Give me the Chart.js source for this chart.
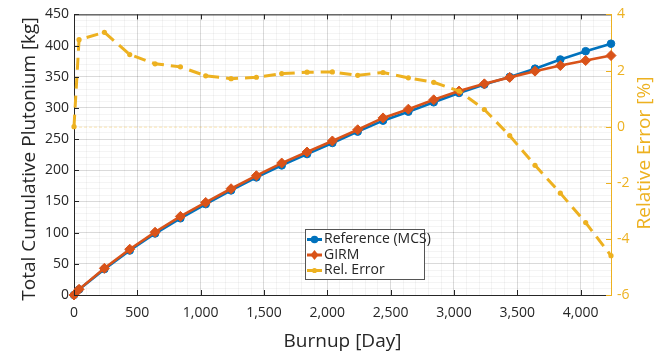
<!DOCTYPE html>
<html><head><meta charset="utf-8">
<script src="https://cdn.jsdelivr.net/npm/chart.js@4/dist/chart.umd.min.js"></script>
<style>html,body{margin:0;padding:0;background:#fff}#wrap{width:665px;height:359px;position:relative}</style>
</head><body><div id="wrap"><canvas id="c" width="665" height="359"></canvas></div>
<script>
// ---- data ----
const days    = [0, 40, 240, 440, 640, 840, 1040, 1240, 1440, 1640, 1840, 2040, 2240, 2440, 2640, 2840, 3040, 3240, 3440, 3640, 3840, 4040, 4240];
const refMCS  = [0, 8.8, 41.5, 71.3, 98.6, 123, 145.7, 167.7, 188.6, 207.8, 226, 243.8, 262, 279.6, 294, 309, 324, 337.5, 349.8, 363, 377.7, 391, 403];
const girm    = [0, 9.1, 42.8, 73.4, 100.7, 126, 148.4, 170.4, 191.3, 211.6, 229.3, 247, 265, 284, 298, 313, 327, 338.6, 349, 359, 368, 376, 384];
const relErr  = [0, 3.1, 3.36, 2.57, 2.24, 2.13, 1.81, 1.71, 1.76, 1.89, 1.94, 1.95, 1.83, 1.93, 1.74, 1.58, 1.27, 0.61, -0.32, -1.38, -2.37, -3.42, -4.6];
const xTicks  = [0, 500, 1000, 1500, 2000, 2500, 3000, 3500, 4000];
const yTicks  = [0, 50, 100, 150, 200, 250, 300, 350, 400, 450];
const y2Ticks = [-6, -4, -2, 0, 2, 4];
const seriesNames = ['Reference (MCS)', 'GIRM', 'Rel. Error'];
const xTitle  = 'Burnup [Day]';
const yTitle  = 'Total Cumulative Plutonium [kg]';
const y2Title = 'Relative Error [%]';

// ---- styles ----
const BLUE = '#0072BD', ORANGE = '#D95319', YELLOW = '#EDB120', AX = '#262626';
const FONT = '"Open Sans", "Noto Sans", sans-serif';

const pts = arr => days.map((d, i) => ({x: d, y: arr[i]}));

const frame = {
  id: 'frame',
  beforeDatasetsDraw(chart) {
    const {ctx, chartArea: a} = chart;
    const y0 = chart.scales.y2.getPixelForValue(0);
    ctx.save();
    ctx.strokeStyle = 'rgba(237,177,32,0.35)';
    ctx.lineWidth = 1;
    ctx.setLineDash([3, 2]);
    ctx.beginPath(); ctx.moveTo(a.left, y0 + 0.5); ctx.lineTo(a.right, y0 + 0.5); ctx.stroke();
    ctx.restore();
  },
  afterDraw(chart) {
    const {ctx, chartArea: a, scales} = chart;
    ctx.save();
    // top box line
    ctx.strokeStyle = AX; ctx.lineWidth = 1;
    ctx.beginPath(); ctx.moveTo(a.left, a.top + 0.5); ctx.lineTo(a.right, a.top + 0.5); ctx.stroke();
    // inward ticks
    const tl = 5;
    ctx.beginPath();
    xTicks.forEach(v => {
      const px = Math.round(scales.x.getPixelForValue(v)) + 0.5;
      ctx.moveTo(px, a.bottom); ctx.lineTo(px, a.bottom - tl);
      ctx.moveTo(px, a.top); ctx.lineTo(px, a.top + tl);
    });
    yTicks.forEach(v => {
      const py = Math.round(scales.y.getPixelForValue(v)) + 0.5;
      ctx.moveTo(a.left, py); ctx.lineTo(a.left + tl, py);
    });
    ctx.stroke();
    ctx.strokeStyle = YELLOW;
    ctx.beginPath();
    y2Ticks.forEach(v => {
      const py = Math.round(scales.y2.getPixelForValue(v)) + 0.5;
      ctx.moveTo(a.right, py); ctx.lineTo(a.right - tl, py);
    });
    ctx.stroke();

    // legend
    const lx = 305, ly = 229, lw = 119, lh = 50;
    ctx.fillStyle = '#fff';
    ctx.fillRect(lx, ly, lw, lh);
    ctx.strokeStyle = '#555'; ctx.lineWidth = 1;
    ctx.strokeRect(lx + 0.5, ly + 0.5, lw, lh);
    const rows = [ly + 10.5, ly + 26, ly + 41.5];
    const dsets = chart.data.datasets;
    dsets.forEach((ds, i) => {
      const ry = rows[i];
      ctx.strokeStyle = ds.borderColor; ctx.lineWidth = 3;
      ctx.setLineDash([]);
      ctx.beginPath(); ctx.moveTo(lx + 2, ry); ctx.lineTo(lx + 17, ry); ctx.stroke();
      ctx.fillStyle = ds.borderColor;
      ctx.beginPath();
      if (ds.pointStyle === 'rectRot') {
        const r = ds.pointRadius;
        ctx.moveTo(lx + 9.5, ry - r); ctx.lineTo(lx + 9.5 + r * 0.8, ry); ctx.lineTo(lx + 9.5, ry + r); ctx.lineTo(lx + 9.5 - r * 0.8, ry);
      } else {
        ctx.arc(lx + 9.5, ry, ds.pointRadius, 0, Math.PI * 2);
      }
      ctx.fill();
      ctx.fillStyle = AX;
      ctx.font = '14px ' + FONT;
      ctx.textBaseline = 'middle'; ctx.textAlign = 'left';
      ctx.fillText(seriesNames[i], lx + 19, ry);
    });

    // axis titles
    ctx.font = '19px ' + FONT;
    ctx.fillStyle = AX; ctx.textAlign = 'center'; ctx.textBaseline = 'middle';
    ctx.fillText(xTitle, (a.left + a.right) / 2, 342);
    ctx.textBaseline = 'alphabetic';
    ctx.save(); ctx.translate(35, 159); ctx.rotate(-Math.PI / 2); ctx.fillText(yTitle, 0, 0); ctx.restore();
    ctx.fillStyle = YELLOW;
    ctx.save(); ctx.translate(650, 153); ctx.rotate(-Math.PI / 2); ctx.fillText(y2Title, 0, 0); ctx.restore();
    ctx.restore();
  }
};

new Chart(document.getElementById('c'), {
  type: 'line',
  data: {
    datasets: [
      {label: seriesNames[0], data: pts(refMCS), yAxisID: 'y', xAxisID: 'x', borderColor: BLUE, backgroundColor: BLUE,
       borderWidth: 2.6, pointStyle: 'circle', pointRadius: 3.8, pointBorderWidth: 1, order: 3, clip: 6},
      {label: seriesNames[1], data: pts(girm), yAxisID: 'y', xAxisID: 'x', borderColor: ORANGE, backgroundColor: ORANGE,
       borderWidth: 2.6, pointStyle: 'rectRot', pointRadius: 5, pointBorderWidth: 1, order: 2, clip: 6},
      {label: seriesNames[2], data: pts(relErr), yAxisID: 'y2', xAxisID: 'x', borderColor: YELLOW, backgroundColor: YELLOW,
       borderWidth: 3, borderDash: [12, 7], pointStyle: 'circle', pointRadius: 2.6, pointBorderWidth: 0, order: 1, clip: 6}
    ]
  },
  options: {
    responsive: false, animation: false, devicePixelRatio: 1,
    layout: {padding: 0},
    plugins: {legend: {display: false}, tooltip: {enabled: false}},
    elements: {line: {tension: 0}},
    scales: {
      x: {
        type: 'linear', position: 'bottom', min: 0, max: 4240,
        afterBuildTicks: s => { s.ticks = xTicks.map(v => ({value: v})); },
        afterFit: s => { s.height = 64; },
        grid: {color: 'rgba(0,0,0,0.11)', drawTicks: false},
        border: {display: true, color: AX, width: 1},
        ticks: {color: AX, font: {size: 14, family: FONT}, padding: 10, maxRotation: 0,
                callback: v => v.toLocaleString('en-US')}
      },
      xm: {
        type: 'linear', position: 'bottom', min: 0, max: 4240, weight: -1,
        afterFit: s => { s.height = 0; },
        grid: {color: 'rgba(0,0,0,0.045)', drawTicks: false},
        border: {display: false},
        ticks: {display: false, stepSize: 100, maxTicksLimit: 200, autoSkip: false}
      },
      y: {
        type: 'linear', position: 'left', min: 0, max: 450,
        afterBuildTicks: s => { s.ticks = yTicks.map(v => ({value: v})); },
        afterFit: s => { s.width = 74; },
        grid: {color: 'rgba(0,0,0,0.11)', drawTicks: false},
        border: {display: true, color: AX, width: 1},
        ticks: {color: AX, font: {size: 14, family: FONT}, padding: 5}
      },
      ym: {
        type: 'linear', position: 'left', min: 0, max: 450, weight: -1,
        afterFit: s => { s.width = 0; },
        grid: {color: 'rgba(0,0,0,0.045)', drawTicks: false},
        border: {display: false},
        ticks: {display: false, stepSize: 10, maxTicksLimit: 200, autoSkip: false}
      },
      y2: {
        type: 'linear', position: 'right', min: -6, max: 4,
        afterBuildTicks: s => { s.ticks = y2Ticks.map(v => ({value: v})); },
        afterFit: s => { s.width = 54; },
        grid: {drawOnChartArea: false, drawTicks: false},
        border: {display: true, color: YELLOW, width: 1},
        ticks: {color: YELLOW, font: {size: 14, family: FONT}, padding: 6, crossAlign: 'near'}
      }
    }
  },
  plugins: [frame]
});
</script>
</body></html>
